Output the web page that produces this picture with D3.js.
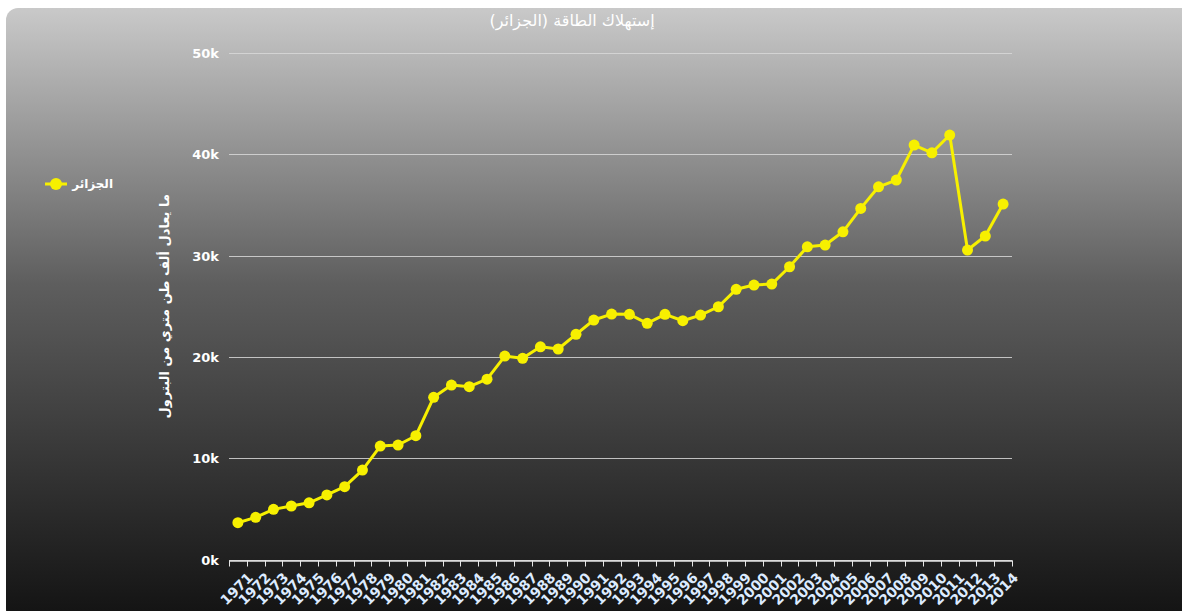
<!DOCTYPE html>
<html>
<head>
<meta charset="utf-8">
<script src="https://cdn.jsdelivr.net/npm/d3@7/dist/d3.min.js"></script>
<style>
  html, body { margin: 0; padding: 0; background: #ffffff; }
  svg { display: block; }
</style>
</head>
<body>
<script>
// Energy consumption, Algeria (thousand tonnes of oil equivalent)
const years = [1971,1972,1973,1974,1975,1976,1977,1978,1979,1980,
               1981,1982,1983,1984,1985,1986,1987,1988,1989,1990,
               1991,1992,1993,1994,1995,1996,1997,1998,1999,2000,
               2001,2002,2003,2004,2005,2006,2007,2008,2009,2010,
               2011,2012,2013,2014];
const consumption = [3630,4160,4950,5280,5600,6370,7190,8830,11200,11300,
                     12220,16010,17220,17060,17800,20080,19860,21000,20780,22230,
                     23640,24230,24200,23310,24200,23570,24130,24950,26670,27090,
                     27190,28900,30870,31040,32350,34660,36790,37460,40910,40150,
                     41900,30550,31930,35090];
const yTicks = [0, 10000, 20000, 30000, 40000, 50000];
const yTickLabels = ["0k", "10k", "20k", "30k", "40k", "50k"];

const titleText = "إستهلاك الطاقة (الجزائر)";
const seriesName = "الجزائر";
const yAxisTitle = "ما يعادل ألف طن متري من البترول";

const W = 1182, H = 611;
const plot = { left: 229, right: 1012, top: 53, bottom: 559.5 };
const lineColor = "#f7f000";
const arabicFont = "'DejaVu Sans', sans-serif";

const svg = d3.select("body").append("svg")
  .attr("width", W).attr("height", H);

// background panel with vertical gradient
const defs = svg.append("defs");
const grad = defs.append("linearGradient")
  .attr("id", "bg").attr("x1", 0).attr("y1", 0).attr("x2", 0).attr("y2", 1);
grad.append("stop").attr("offset", "0%").attr("stop-color", "#c9c9c9");
grad.append("stop").attr("offset", "45%").attr("stop-color", "#5e5e5e");
grad.append("stop").attr("offset", "100%").attr("stop-color", "#121212");

svg.append("rect")
  .attr("x", 6).attr("y", 8)
  .attr("width", W + 20).attr("height", H + 2)
  .attr("rx", 12).attr("ry", 12)
  .attr("fill", "url(#bg)");

const x = d3.scaleBand().domain(years).range([plot.left, plot.right]).padding(0);
const y = d3.scaleLinear().domain([0, 50000]).range([plot.bottom, plot.top]);

// horizontal grid lines
svg.append("g")
  .selectAll("line")
  .data(yTicks)
  .join("line")
  .attr("x1", plot.left).attr("x2", plot.right)
  .attr("y1", d => Math.round(y(d)) + 0.5).attr("y2", d => Math.round(y(d)) + 0.5)
  .attr("stroke", "#d8d8d8").attr("stroke-opacity", 0.85).attr("stroke-width", 1);

// y axis labels
const yAxis = d3.axisLeft(y)
  .tickValues(yTicks)
  .tickFormat((d, i) => yTickLabels[i])
  .tickSize(0).tickPadding(0);
const gy = svg.append("g").attr("transform", `translate(${plot.left - 10},0)`).call(yAxis);
gy.select(".domain").remove();
gy.selectAll("text")
  .attr("fill", "#ffffff")
  .attr("font-family", "'DejaVu Sans', Verdana, sans-serif")
  .attr("font-weight", "bold")
  .attr("font-size", 13)
  .attr("dy", "0.35em");

// x axis: ticks between categories
const xAxis = d3.axisBottom(x).tickSize(0).tickFormat(d => d);
const gx = svg.append("g").attr("transform", `translate(0,${Math.round(plot.bottom) + 0.5})`).call(xAxis);
gx.select(".domain").attr("stroke", "#e6e6e6").attr("stroke-width", 1.5);
gx.selectAll(".tick line").remove();
gx.selectAll(".tick text")
  .attr("fill", "#dcebff")
  .attr("font-family", "'DejaVu Sans', Verdana, sans-serif")
  .attr("font-weight", "bold")
  .attr("font-size", 14)
  .attr("text-anchor", "end")
  .attr("dy", null)
  .attr("y", 0)
  .attr("transform", "translate(16,18) rotate(-45)");

const boundaries = years.map(d => x(d)).concat([x(years[years.length - 1]) + x.bandwidth()]);
gx.append("g").selectAll("line")
  .data(boundaries)
  .join("line")
  .attr("x1", d => Math.round(d) + 0.5).attr("x2", d => Math.round(d) + 0.5)
  .attr("y1", 0).attr("y2", 6)
  .attr("stroke", "#e6e6e6").attr("stroke-width", 1);

// y axis title
svg.append("text")
  .attr("transform", `translate(169,${(plot.top + plot.bottom) / 2}) rotate(-90)`)
  .attr("text-anchor", "middle")
  .attr("fill", "#ffffff")
  .attr("font-family", arabicFont)
  .attr("font-weight", "bold")
  .attr("font-size", 13)
  .text(yAxisTitle);

// chart title
svg.append("text")
  .attr("x", 572).attr("y", 26)
  .attr("text-anchor", "middle")
  .attr("fill", "#ffffff")
  .attr("font-family", arabicFont)
  .attr("font-size", 16)
  .text(titleText);

// series line and markers
const cx = d => x(d) + x.bandwidth() / 2;
const line = d3.line()
  .x((d, i) => cx(years[i]))
  .y(d => y(d));

svg.append("path")
  .datum(consumption)
  .attr("d", line)
  .attr("fill", "none")
  .attr("stroke", lineColor)
  .attr("stroke-width", 3)
  .attr("stroke-linejoin", "round");

svg.append("g")
  .selectAll("circle")
  .data(consumption)
  .join("circle")
  .attr("cx", (d, i) => cx(years[i]))
  .attr("cy", d => y(d))
  .attr("r", 5.5)
  .attr("fill", lineColor);

// legend
const lg = svg.append("g").attr("transform", "translate(45,184)");
lg.append("line").attr("x1", 0).attr("x2", 22).attr("y1", 0).attr("y2", 0)
  .attr("stroke", lineColor).attr("stroke-width", 3);
lg.append("circle").attr("cx", 11).attr("cy", 0).attr("r", 6).attr("fill", lineColor);
lg.append("text")
  .attr("x", 68).attr("y", 4)
  .attr("text-anchor", "end")
  .attr("fill", "#ffffff")
  .attr("font-family", arabicFont)
  .attr("font-weight", "bold")
  .attr("font-size", 12)
  .text(seriesName);
</script>
</body>
</html>
